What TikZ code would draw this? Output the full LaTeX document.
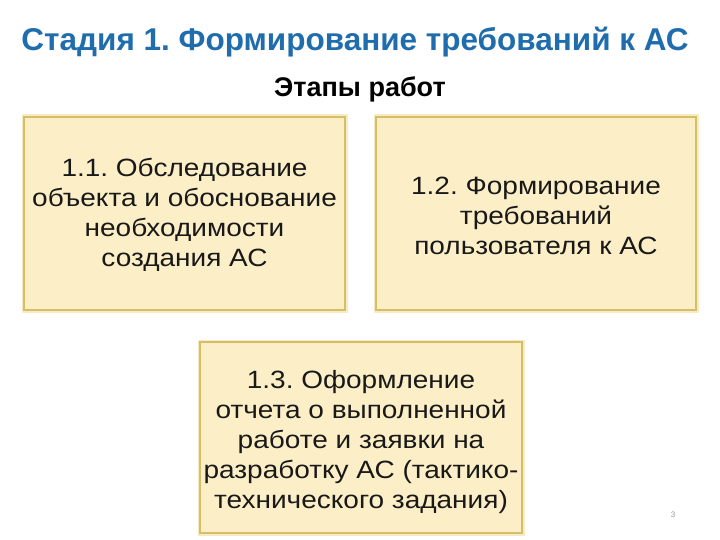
\documentclass[tikz,border=0pt]{standalone}
\usepackage{fontspec}
\setmainfont{Liberation Sans}
\newfontfamily\boxfont[FakeStretch=1.12]{Liberation Sans}
\definecolor{titleblue}{HTML}{1F6DAD}
\definecolor{boxfill}{HTML}{FCEFC7}
\definecolor{boxline}{HTML}{D5BE66}
\definecolor{glow}{HTML}{F6EBC4}
\begin{document}
\frenchspacing
\begin{tikzpicture}[x=1pt,y=-1pt,
  stagebox/.style={draw=boxline,line width=2pt,fill=boxfill},
  glowbox/.style={draw=glow,line width=5pt},
  boxtext/.style={align=center,font=\boxfont\fontsize{25}{30}\selectfont,text=black!90}]
\useasboundingbox[fill=white] (0,0) rectangle (720,540);
\node[font=\bfseries\fontsize{31.5}{36}\selectfont,text=titleblue] (title) at (355,42) {Стадия 1. Формирование требований к АС};
\node[font=\bfseries\fontsize{27}{30}\selectfont,text=black] (sub) at (360,89) {Этапы работ};
% boxes
\draw[glowbox] (24,117) rectangle (345,310);
\draw[glowbox] (376,117) rectangle (696,310);
\draw[glowbox] (200,342) rectangle (522,533);
\draw[stagebox] (24,117) rectangle (345,310);
\draw[stagebox] (376,117) rectangle (696,310);
\draw[stagebox] (200,342) rectangle (522,533);
\node[boxtext] (b1) at (184.5,215) {1.1. Обследование\\объекта и обоснование\\необходимости\\создания АС};
\node[boxtext] (b2) at (536,216) {1.2. Формирование\\требований\\пользователя к АС};
\node[boxtext] (b3) at (361,442) {1.3. Оформление\\отчета о выполненной\\работе и заявки на\\разработку АС (тактико-\\технического задания)};
\node[font=\fontsize{8}{9}\selectfont,text=black!40] (pg) at (673,515) {3};
\end{tikzpicture}
\end{document}
